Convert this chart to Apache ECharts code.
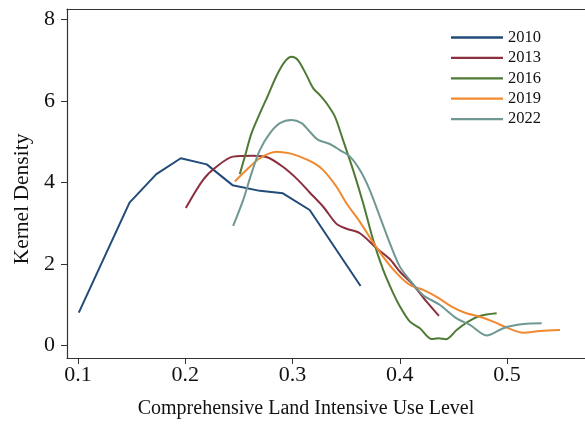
<!DOCTYPE html>
<html>
<head>
<meta charset="utf-8">
<script src="https://cdn.jsdelivr.net/npm/echarts@6/dist/echarts.min.js"></script>
<style>html,body{margin:0;padding:0;background:#fff;}#c{width:585px;height:425px;}</style>
</head>
<body>
<div id="c"></div>
<script>
const years = ['2010', '2013', '2016', '2019', '2022'];
const xTicks = [0.1, 0.2, 0.3, 0.4, 0.5];
const yTicks = [0, 2, 4, 6, 8];

const d2010 = [[0.1007,0.80],[0.148,3.50],[0.173,4.20],[0.1958,4.59],[0.22,4.44],[0.244,3.93],[0.2695,3.79],[0.291,3.73],[0.316,3.32],[0.3634,1.455]];
const d2013 = [[0.2005,3.37],[0.2166,4.06],[0.229,4.38],[0.2446,4.63],[0.263,4.65],[0.277,4.61],[0.291,4.38],[0.305,4.06],[0.316,3.75],[0.3286,3.40],[0.341,2.98],[0.3504,2.86],[0.3628,2.75],[0.3784,2.38],[0.3908,2.11],[0.400,1.81],[0.4125,1.48],[0.425,1.07],[0.4365,0.72]];
const d2016 = [[0.2508,4.20],[0.2555,4.63],[0.2617,5.20],[0.2695,5.69],[0.2772,6.14],[0.285,6.61],[0.2928,6.96],[0.299,7.08],[0.305,7.00],[0.313,6.63],[0.3192,6.31],[0.3255,6.14],[0.3317,5.94],[0.3395,5.61],[0.347,5.04],[0.3565,4.30],[0.3659,3.48],[0.3752,2.58],[0.3845,1.85],[0.3938,1.28],[0.400,0.96],[0.4094,0.58],[0.4187,0.42],[0.4297,0.155],[0.4359,0.17],[0.443,0.147],[0.453,0.375],[0.4638,0.58],[0.4747,0.72],[0.4903,0.785]];
const d2019 = [[0.2462,4.02],[0.257,4.30],[0.2695,4.59],[0.285,4.75],[0.2975,4.71],[0.3068,4.63],[0.3192,4.48],[0.3286,4.30],[0.341,3.89],[0.3504,3.48],[0.3628,3.03],[0.3737,2.58],[0.3845,2.17],[0.397,1.77],[0.4094,1.48],[0.4218,1.36],[0.4343,1.19],[0.4483,0.95],[0.4607,0.80],[0.4747,0.70],[0.4871,0.58],[0.5011,0.42],[0.5151,0.31],[0.5307,0.35],[0.5494,0.375]];
const d2022 = [[0.2446,2.93],[0.254,3.57],[0.2617,4.22],[0.2695,4.79],[0.2788,5.20],[0.2882,5.45],[0.299,5.53],[0.3084,5.45],[0.3161,5.24],[0.3239,5.04],[0.3348,4.94],[0.344,4.79],[0.3535,4.63],[0.3628,4.30],[0.372,3.81],[0.3814,3.16],[0.3908,2.50],[0.400,1.93],[0.4094,1.60],[0.4218,1.23],[0.4374,0.99],[0.453,0.66],[0.4654,0.50],[0.481,0.24],[0.4965,0.42],[0.5151,0.52],[0.5323,0.54]];

const seriesData = [d2010, d2013, d2016, d2019, d2022];
const colors = ['#234b7a', '#8c2f3f', '#4f7a35', '#f0892f', '#6f9893'];
const smooths = [false, 0.3, 0.3, 0.3, 0.3];

const font = 'Liberation Serif';
const chart = echarts.init(document.getElementById('c'), null, {renderer: 'canvas'});
chart.setOption({
  animation: false,
  backgroundColor: '#fff',
  grid: {left: 67, top: 9, right: -10, bottom: 67, outerBoundsMode: 'none', containLabel: false},
  legend: {
    data: years, left: 446, top: 24, orient: 'vertical',
    icon: 'path://M0,0 L50,0 L50,2.2 L0,2.2 Z',
    itemWidth: 52, itemHeight: 14, itemGap: 3.4,
    textStyle: {fontFamily: font, fontSize: 16.5, color: '#111'}
  },
  xAxis: [{
    type: 'value', min: 0.0897, max: 0.582,
    name: 'Comprehensive Land Intensive Use Level', nameLocation: 'middle', nameGap: 41,
    nameTextStyle: {fontFamily: font, fontSize: 20, color: '#111', padding: [0, 50, 0, 0]},
    axisLine: {show: true, onZero: false, lineStyle: {color: '#333', width: 1.2}},
    axisTick: {show: true, length: 6, customValues: xTicks, lineStyle: {color: '#333'}},
    axisLabel: {customValues: xTicks, fontFamily: font, fontSize: 22, color: '#111', margin: 6, formatter: v => v.toFixed(1)},
    splitLine: {show: false}
  }, {
    type: 'value', position: 'top', min: 0.0897, max: 0.582,
    axisLine: {show: true, onZero: false, lineStyle: {color: '#333', width: 1.2}},
    axisTick: {show: false}, axisLabel: {show: false}, splitLine: {show: false}
  }],
  yAxis: {
    type: 'value', min: -0.312, max: 8.253,
    name: 'Kernel Density', nameLocation: 'middle', nameGap: 32, nameRotate: 90,
    nameTextStyle: {fontFamily: font, fontSize: 21.5, color: '#111', padding: [0, 31, 0, 0]},
    axisLine: {show: true, onZero: false, lineStyle: {color: '#333', width: 1.2}},
    axisTick: {show: true, length: 6, customValues: yTicks, lineStyle: {color: '#333'}},
    axisLabel: {customValues: yTicks, fontFamily: font, fontSize: 22, color: '#111', margin: 12},
    splitLine: {show: false}
  },
  series: years.map((y, i) => ({
    name: y, type: 'line', data: seriesData[i], symbol: 'none', smooth: smooths[i],
    lineStyle: {color: colors[i], width: 2}, itemStyle: {color: colors[i]}
  }))
});
</script>
</body>
</html>
